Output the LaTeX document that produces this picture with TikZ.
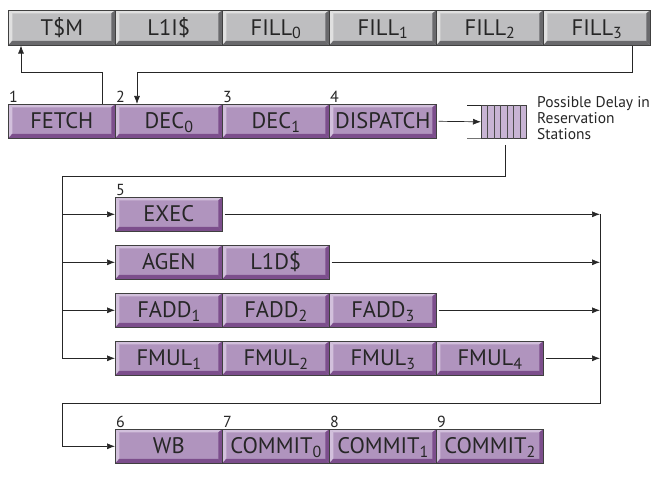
\documentclass[tikz,border=0pt]{standalone}
\usepackage{fontspec}
\setmainfont{PT Sans}
\usetikzlibrary{arrows.meta,calc}
\definecolor{pface}{RGB}{176,148,190}
\definecolor{plight}{RGB}{210,192,220}
\definecolor{pdark}{RGB}{124,78,140}
\definecolor{gface}{RGB}{190,190,192}
\definecolor{glight}{RGB}{224,224,224}
\definecolor{gdark}{RGB}{105,105,108}
\definecolor{qfill}{RGB}{200,180,212}
\definecolor{txt}{RGB}{38,38,38}
\newcommand\sbx[1]{\raisebox{-3.5pt}{\fontsize{16}{16}\selectfont #1}}
\tikzset{
  bevel/.style n args={3}{fill=#1, draw=black!75, line width=0.6pt,
    path picture={
      \coordinate (bvsw) at (path picture bounding box.south west);
      \coordinate (bvne) at (path picture bounding box.north east);
      \coordinate (bvse) at (bvsw -| bvne);
      \coordinate (bvnw) at (bvsw |- bvne);
      \fill[#2] (bvsw) -- (bvnw) -- ([shift={(4pt,-3pt)}]bvnw) -- ([shift={(4pt,4.5pt)}]bvsw) -- cycle;
      \fill[#2] (bvnw) -- (bvne) -- ([shift={(-4pt,-3pt)}]bvne) -- ([shift={(4pt,-3pt)}]bvnw) -- cycle;
      \fill[#3] (bvsw) -- (bvse) -- ([shift={(-4pt,4.5pt)}]bvse) -- ([shift={(4pt,4.5pt)}]bvsw) -- cycle;
      \fill[#3] (bvse) -- (bvne) -- ([shift={(-4pt,-3pt)}]bvne) -- ([shift={(-4pt,4.5pt)}]bvse) -- cycle;
    }},
  basebox/.style={minimum width=107pt, minimum height=34pt, inner sep=0pt,
    text height=15pt, text depth=0pt, anchor=north west, text=txt,
    font=\fontsize{22.5}{22.5}\selectfont},
  pbox/.style={basebox, bevel={pface}{plight}{pdark}},
  gbox/.style={basebox, minimum height=35pt, bevel={gface}{glight}{gdark}},
  num/.style={anchor=south west, inner sep=1pt, text=txt, font=\fontsize{16}{16}\selectfont},
  conn/.style={line width=0.7pt, draw=black!85},
  arr/.style={conn, -{Latex[length=8pt,width=6pt]}},
}
\begin{document}
\begin{tikzpicture}[x=1pt,y=-1pt]
\useasboundingbox (0,0) rectangle (654,481);
% top row
\node[gbox] (tsm) at (8,10) {T\$M};
\node[gbox] (l1i) at (115,10) {L1I\$};
\node[gbox] (fill0) at (222,10) {FILL\sbx{0}};
\node[gbox] (fill1) at (329,10) {FILL\sbx{1}};
\node[gbox] (fill2) at (436,10) {FILL\sbx{2}};
\node[gbox] (fill3) at (543,10) {FILL\sbx{3}};
% front end
\node[pbox] (fetch) at (8,104) {FETCH};
\node[pbox] (dec0) at (115,104) {DEC\sbx{0}};
\node[pbox] (dec1) at (222,104) {DEC\sbx{1}};
\node[pbox] (disp) at (329,104) {DISPATCH};
\node[num] (n1) at (fetch.north west) {1};
\node[num] (n2) at (dec0.north west) {2};
\node[num] (n3) at (dec1.north west) {3};
\node[num] (n4) at (disp.north west) {4};
% queue
\node[draw=black!75, line width=0.6pt, fill=qfill, minimum width=45pt, minimum height=33pt,
      inner sep=0pt, anchor=north west] (q) at (481,105) {};
\foreach \i in {1,...,6}
  \draw[black!70, line width=0.6pt] ($(q.north west)!\i/7!(q.north east)$) -- ($(q.south west)!\i/7!(q.south east)$);
\draw[conn] (q.north west) -- ++(-14pt,0pt);
\draw[black!55, line width=0.8pt] (q.south west) -- ++(-14pt,0pt);
\node[anchor=north west, align=left, inner sep=0pt, text=txt,
      font=\fontsize{15.5}{16}\selectfont] (note) at (537,96) {Possible Delay in\\Reservation\\Stations};
% execution units
\node[pbox] (exec) at (115,197) {EXEC};
\node[num] (n5) at (exec.north west) {5};
\node[pbox] (agen) at (115,245) {AGEN};
\node[pbox] (l1d) at (222,245) {L1D\$};
\node[pbox] (fadd1) at (115,293) {FADD\sbx{1}};
\node[pbox] (fadd2) at (222,293) {FADD\sbx{2}};
\node[pbox] (fadd3) at (329,293) {FADD\sbx{3}};
\node[pbox] (fmul1) at (115,341) {FMUL\sbx{1}};
\node[pbox] (fmul2) at (222,341) {FMUL\sbx{2}};
\node[pbox] (fmul3) at (329,341) {FMUL\sbx{3}};
\node[pbox] (fmul4) at (436,341) {FMUL\sbx{4}};
% back end
\node[pbox] (wb) at (115,429) {WB};
\node[pbox] (c0) at (222,429) {COMMIT\sbx{0}};
\node[pbox] (c1) at (329,429) {COMMIT\sbx{1}};
\node[pbox] (c2) at (436,429) {COMMIT\sbx{2}};
\node[num] (n6) at (wb.north west) {6};
\node[num] (n7) at (c0.north west) {7};
\node[num] (n8) at (c1.north west) {8};
\node[num] (n9) at (c2.north west) {9};
% connectors
\coordinate (fout) at ([xshift=-13pt]fetch.north east);
\coordinate (b1) at (21,72);
\draw[arr] (fout) |- (b1) -- (b1 |- tsm.south);
\coordinate (fin) at ([xshift=-18pt]fill3.south east);
\coordinate (b2) at (137,72);
\draw[arr] (fin) |- (b2) -- (b2 |- dec0.north);
\draw[arr] ([xshift=2pt]disp.east) -- (q.west);
\coordinate (qout) at (505,145);
\coordinate (b3) at (62,176);
\draw[conn] (qout) |- (b3) -- (b3 |- fmul1.west);
\draw[arr] (b3 |- exec.west) -- (exec.west);
\draw[arr] (b3 |- agen.west) -- (agen.west);
\draw[arr] (b3 |- fadd1.west) -- (fadd1.west);
\draw[arr] (b3 |- fmul1.west) -- (fmul1.west);
\coordinate (b4) at (600,403);
\coordinate (b5) at (62,403);
\draw[arr] ([xshift=2pt]exec.east) -- (exec.east -| b4);
\draw[arr] ([xshift=2pt]l1d.east) -- (l1d.east -| b4);
\draw[arr] ([xshift=2pt]fadd3.east) -- (fadd3.east -| b4);
\draw[arr] ([xshift=2pt]fmul4.east) -- (fmul4.east -| b4);
\draw[arr] (b4 |- exec.east) -- (b4) -- (b5) |- (wb.west);
\end{tikzpicture}
\end{document}
